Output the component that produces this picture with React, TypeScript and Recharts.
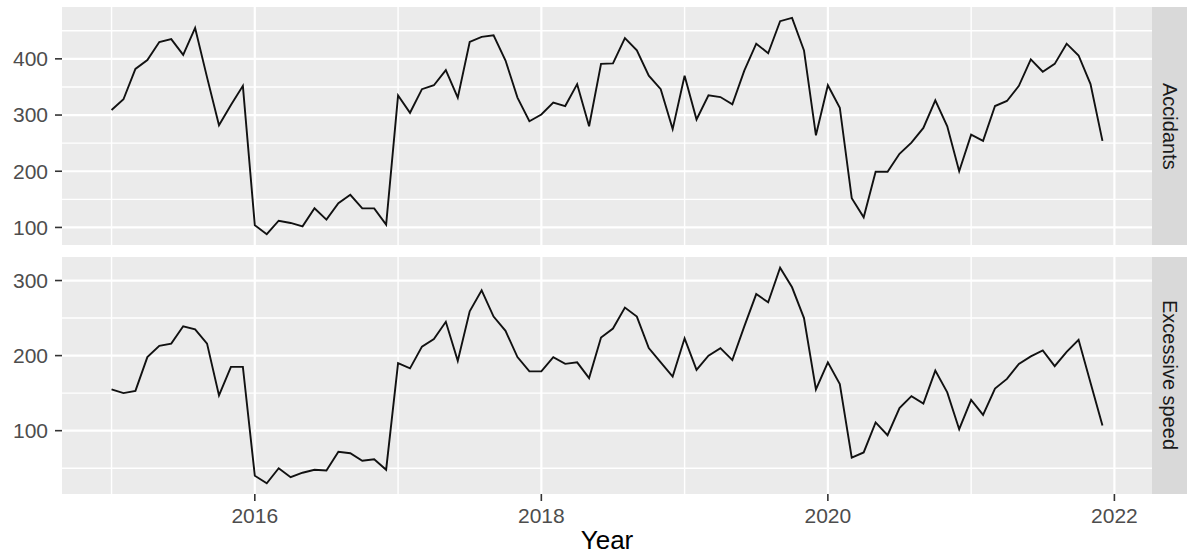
import { LineChart, Line, XAxis, YAxis, CartesianGrid, ReferenceLine } from 'recharts'

// monthly counts, Jan 2015 .. Dec 2021
const accidants = [
  309, 328, 382, 398, 430, 435, 407, 455, 367, 282, 318, 352,
  104, 88, 112, 108, 102, 134, 114, 143, 158, 134, 134, 105,
  335, 304, 346, 353, 380, 331, 430, 439, 442, 397, 331, 289,
  301, 322, 316, 355, 280, 391, 392, 437, 415, 370, 346, 275,
  370, 292, 335, 332, 319, 379, 427, 410, 467, 473, 415, 264,
  353, 313, 152, 118, 199, 199, 231, 251, 277, 326, 280, 200,
  265, 254, 316, 325, 352, 399, 377, 391, 427, 406, 355, 254,
]

const excessiveSpeed = [
  155, 150, 153, 198, 213, 216, 239, 235, 216, 147, 185, 185,
  40, 30, 50, 38, 44, 48, 47, 72, 70, 60, 62, 48,
  190, 183, 212, 222, 245, 193, 259, 287, 252, 233, 198, 179,
  179, 198, 189, 191, 170, 224, 236, 264, 252, 210, 191, 172,
  223, 181, 200, 210, 194, 239, 282, 271, 317, 291, 250, 155,
  191, 162, 64, 71, 111, 94, 130, 146, 136, 180, 151, 102,
  141, 121, 156, 169, 189, 199, 207, 186, 205, 221, 164, 107,
]

const START_YEAR = 2015
const yearTicks = [2016, 2018, 2020, 2022]
const yearMinor = [2015, 2017, 2019, 2021]

const accTicks = [100, 200, 300, 400]
const accMinor = [150, 250, 350, 450]
const speedTicks = [100, 200, 300]
const speedMinor = [50, 150, 250]

const FONT = '"Liberation Sans", Arial, Helvetica, sans-serif'
const PANEL_BG = '#EBEBEB'
const STRIP_BG = '#D9D9D9'
const tickStyle = { fill: '#4D4D4D', fontSize: 21, fontFamily: FONT }

// ggplot-style 5% expansion on both sides
const expand = (lo: number, hi: number): [number, number] => {
  const pad = (hi - lo) * 0.05
  return [lo - pad, hi + pad]
}

const time = accidants.map((_, i) => START_YEAR + i / 12)
const xDomain = expand(time[0], time[time.length - 1])

const toRows = (values: number[]) => values.map((v, i) => ({ t: time[i], v }))

interface PanelProps {
  values: number[]
  ticks: number[]
  minor: number[]
  showX: boolean
  height: number
  margin: { top: number; right: number; bottom: number; left: number }
}

function Panel({ values, ticks, minor, showX, height, margin }: PanelProps) {
  const yDomain = expand(Math.min(...values), Math.max(...values))
  return (
    <LineChart width={1187} height={height} data={toRows(values)} margin={margin}>
      <CartesianGrid fill={PANEL_BG} fillOpacity={1} stroke="none" horizontal={false} vertical={false} />
      {yearMinor.map((x) => (
        <ReferenceLine key={'xm' + x} x={x} stroke="#fff" strokeWidth={1.4} />
      ))}
      {minor.map((y) => (
        <ReferenceLine key={'ym' + y} y={y} stroke="#fff" strokeWidth={1.4} />
      ))}
      {yearTicks.map((x) => (
        <ReferenceLine key={'x' + x} x={x} stroke="#fff" strokeWidth={2.2} />
      ))}
      {ticks.map((y) => (
        <ReferenceLine key={'y' + y} y={y} stroke="#fff" strokeWidth={2.2} />
      ))}
      <XAxis
        type="number"
        dataKey="t"
        domain={xDomain}
        ticks={yearTicks}
        allowDataOverflow
        hide={!showX}
        axisLine={false}
        tickLine={{ stroke: '#333', strokeWidth: 1.6 }}
        tickSize={7}
        tickMargin={7}
        tick={tickStyle}
        height={40}
      />
      <YAxis
        type="number"
        domain={yDomain}
        ticks={ticks}
        allowDataOverflow
        axisLine={false}
        tickLine={{ stroke: '#333', strokeWidth: 1.6 }}
        tickSize={7}
        tickMargin={7}
        tick={tickStyle}
        width={62}
      />
      <Line
        type="linear"
        dataKey="v"
        stroke="#111"
        strokeWidth={1.9}
        dot={false}
        isAnimationActive={false}
      />
    </LineChart>
  )
}

function Strip({ label, top, height }: { label: string; top: number; height: number }) {
  return (
    <div
      style={{
        position: 'absolute',
        left: 1152,
        top,
        width: 40,
        height,
        background: STRIP_BG,
        display: 'flex',
        alignItems: 'center',
        justifyContent: 'center',
      }}
    >
      <span
        style={{
          writingMode: 'vertical-rl',
          fontFamily: FONT,
          fontSize: 20,
          color: '#1A1A1A',
          marginRight: 5,
        }}
      >
        {label}
      </span>
    </div>
  )
}

export default function App() {
  return (
    <div
      style={{
        position: 'absolute',
        left: 0,
        top: 0,
        width: 1187,
        height: 555,
        overflow: 'hidden',
        background: '#fff',
      }}
    >
      <div style={{ position: 'absolute', left: 0, top: 0 }}>
        <Panel
          values={accidants}
          ticks={accTicks}
          minor={accMinor}
          showX={false}
          height={250}
          margin={{ top: 7, right: 35, bottom: 5, left: 0 }}
        />
      </div>
      <div style={{ position: 'absolute', left: 0, top: 250 }}>
        <Panel
          values={excessiveSpeed}
          ticks={speedTicks}
          minor={speedMinor}
          showX={true}
          height={305}
          margin={{ top: 7, right: 35, bottom: 21, left: 0 }}
        />
      </div>
      <Strip label="Accidants" top={7} height={238} />
      <Strip label="Excessive speed" top={257} height={237} />
      <div
        style={{
          position: 'absolute',
          left: 62,
          width: 1090,
          top: 527,
          textAlign: 'center',
          fontFamily: FONT,
          fontSize: 26,
          lineHeight: 1,
          color: '#000',
        }}
      >
        Year
      </div>
    </div>
  )
}
